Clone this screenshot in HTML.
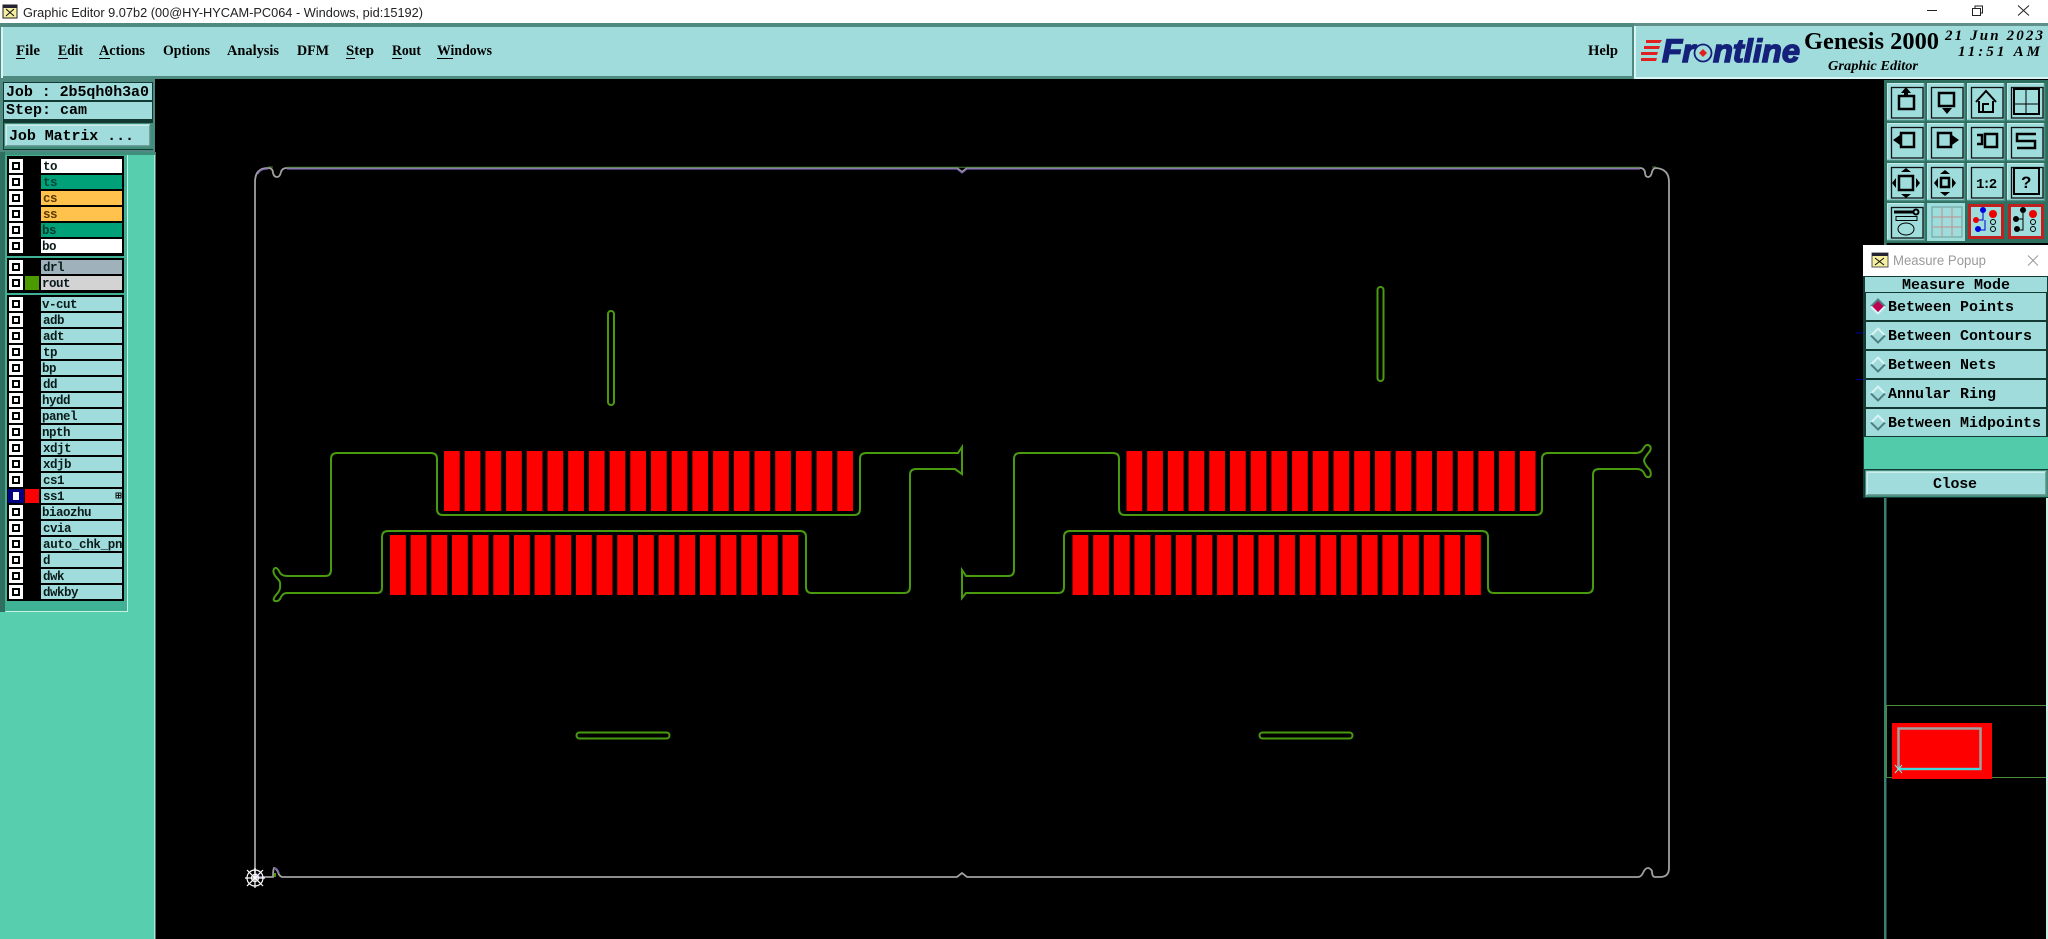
<!DOCTYPE html>
<html><head><meta charset="utf-8"><style>
html,body{margin:0;padding:0;background:#000;overflow:hidden}
svg{display:block}
.m{font:bold 15px "Liberation Mono",monospace;fill:#000}
.l{font:bold 12.5px "Liberation Mono",monospace;letter-spacing:-.5px;fill:#0a1a1a}
.s{font:bold 14.5px "Liberation Serif",serif;fill:#000}
</style></head><body>
<svg width="2048" height="939" viewBox="0 0 2048 939" xmlns="http://www.w3.org/2000/svg">
<defs>
<pattern id="p1" patternUnits="userSpaceOnUse" x="444" y="0" width="20.7" height="939"><rect width="15.7" height="939" fill="#f00"/></pattern>
<pattern id="p2" patternUnits="userSpaceOnUse" x="390" y="0" width="20.66" height="939"><rect width="15.9" height="939" fill="#f00"/></pattern>
<g id="cell"><rect width="38" height="38" fill="#9fdcdc"/><path d="M.5 38V.5H38" fill="none" stroke="#c4eaea" stroke-width="1"/><path d="M0 37.500H37.500V0" fill="none" stroke="#4a8f84" stroke-width="1.500"/><rect x="4.500" y="4.500" width="31.500" height="30.500" fill="#9fdcdc" stroke="#111" stroke-width="1.300"/></g>
<g id="cb"><rect x="9" y="0" width="14" height="14" fill="#fff"/><rect x="12" y="3" width="8" height="8" fill="#000"/><rect x="14" y="5" width="4" height="4" fill="#fff"/></g>
<g id="dia"><path d="M0 -7L7 0 0 7 -7 0Z" fill="#a0dcdc"/><path d="M-7 0L0 -7 7 0" fill="none" stroke="#d8f4f4" stroke-width="2"/><path d="M-7 0L0 7 7 0" fill="none" stroke="#4f7f80" stroke-width="2"/></g>
</defs>

<rect width="2048" height="939" fill="#000"/>

<!-- title bar -->
<rect width="2048" height="23" fill="#fff"/>
<rect x="3" y="5" width="14" height="13" fill="#f5f0a0" stroke="#222"/><rect x="3" y="5" width="14" height="3" fill="#223"/><path d="M6 9l8 7M14 9l-8 7" stroke="#111"/>
<text x="23" y="17" font-family="Liberation Sans,sans-serif" font-size="13" fill="#222" textLength="400" lengthAdjust="spacingAndGlyphs">Graphic Editor 9.07b2 (00@HY-HYCAM-PC064 - Windows, pid:15192)</text>
<path d="M1927 10.500H1937" stroke="#222"/><rect x="1972.500" y="8.500" width="8" height="7" fill="none" stroke="#222"/><path d="M1975 8.500V6h7.500v7H1981" fill="none" stroke="#222"/><path d="M2018 5.500L2029 15.500M2029 5.500L2018 15.500" stroke="#222"/>

<!-- menu bar -->
<rect y="23" width="2048" height="58" fill="#000"/>
<rect x="0" y="23" width="1636" height="56" fill="#4f8a80"/>
<rect x="3" y="27" width="1629" height="49" fill="#a0dcdc"/>
<rect x="1" y="27" width="2" height="51" fill="#d8f4f4"/>
<text class="s" x="16" y="55" textLength="24" lengthAdjust="spacingAndGlyphs">File</text><rect x="16" y="58" width="9" height="1"/>
<text class="s" x="58" y="55" textLength="25" lengthAdjust="spacingAndGlyphs">Edit</text><rect x="58" y="58" width="10" height="1"/>
<text class="s" x="99" y="55" textLength="46" lengthAdjust="spacingAndGlyphs">Actions</text><rect x="99" y="58" width="11" height="1"/>
<text class="s" x="163" y="55" textLength="47" lengthAdjust="spacingAndGlyphs">Options</text>
<text class="s" x="227" y="55" textLength="52" lengthAdjust="spacingAndGlyphs">Analysis</text>
<text class="s" x="297" y="55" textLength="32" lengthAdjust="spacingAndGlyphs">DFM</text>
<text class="s" x="346" y="55" textLength="28" lengthAdjust="spacingAndGlyphs">Step</text><rect x="346" y="58" width="9" height="1"/>
<text class="s" x="392" y="55" textLength="29" lengthAdjust="spacingAndGlyphs">Rout</text><rect x="392" y="58" width="10" height="1"/>
<text class="s" x="437" y="55" textLength="55" lengthAdjust="spacingAndGlyphs">Windows</text><rect x="437" y="58" width="16" height="1"/>
<text class="s" x="1588" y="55" textLength="30" lengthAdjust="spacingAndGlyphs">Help</text>

<!-- logo -->
<rect x="1634" y="23" width="414" height="56" fill="#5f8f88"/>
<rect x="1636" y="26" width="412" height="51" fill="#a0dcdc"/>
<rect x="1634" y="26" width="2" height="53" fill="#d8f4f4"/><rect x="1634" y="77" width="414" height="2" fill="#d8f4f4"/>
<path d="M1646 40h16l-2 3h-14zM1644 46h16l-1 3h-15zM1641 52h17l-1 3h-16zM1641 58h16l-1 3h-15z" fill="#e02020"/>
<text x="1662" y="62" font-family="Liberation Sans,sans-serif" font-size="32" font-weight="bold" font-style="italic" fill="#14207a" stroke="#14207a" stroke-width="1.400" textLength="33" lengthAdjust="spacingAndGlyphs">Fr</text>
<circle cx="1703" cy="53" r="8.500" fill="none" stroke="#14207a" stroke-width="1.800"/><path d="M1703 49l4 4-4 4-4-4z" fill="#e02020"/>
<text x="1713" y="62" font-family="Liberation Sans,sans-serif" font-size="32" font-weight="bold" font-style="italic" fill="#14207a" stroke="#14207a" stroke-width="1.400" textLength="87" lengthAdjust="spacingAndGlyphs">ntline</text>
<text x="1804" y="49" font-family="Liberation Serif,serif" font-size="24" font-weight="bold" fill="#000" textLength="135" lengthAdjust="spacingAndGlyphs">Genesis 2000</text>
<text x="1828" y="70" font-family="Liberation Serif,serif" font-size="13.500" font-weight="bold" font-style="italic" fill="#000" textLength="90" lengthAdjust="spacingAndGlyphs">Graphic Editor</text>
<text x="1945" y="40" font-family="Liberation Serif,serif" font-size="15" font-weight="bold" font-style="italic" fill="#000" textLength="98" lengthAdjust="spacing">21 Jun 2023</text>
<text x="1958" y="56" font-family="Liberation Serif,serif" font-size="15" font-weight="bold" font-style="italic" fill="#000" textLength="82" lengthAdjust="spacing">11:51 AM</text>

<!-- job info -->
<rect x="0" y="79" width="155" height="75" fill="#4f8a80"/>
<rect x="3" y="82" width="150" height="68" fill="#123a33"/>
<rect x="4" y="83" width="148" height="17" fill="#a0dcdc"/>
<rect x="4" y="102" width="148" height="17" fill="#a0dcdc"/>
<rect x="4" y="123" width="150" height="26" fill="#3f8f7a"/>
<rect x="6" y="125" width="144" height="21" fill="#a0dcdc"/>
<path d="M6 146V125H150" fill="none" stroke="#d8f4f4" stroke-width="1.500"/><path d="M6 146H150V125" fill="none" stroke="#5f8f88" stroke-width="1.500"/>
<text class="m" x="6" y="96" textLength="143" lengthAdjust="spacing">Job : 2b5qh0h3a0</text>
<text class="m" x="6" y="114" textLength="81" lengthAdjust="spacing">Step: cam</text>
<text class="m" x="9" y="140" textLength="125" lengthAdjust="spacing">Job Matrix ...</text>

<!-- left panel -->
<rect x="0" y="152" width="155" height="787" fill="#57cfae"/>
<rect x="154" y="152" width="1.500" height="787" fill="#a8e8d4"/>
<rect x="0" y="152" width="155" height="3" fill="#3f8f7a"/>
<rect x="0" y="152" width="5" height="460" fill="#2f6f60"/>
<rect x="5" y="155" width="123" height="456" fill="#3fb296"/>
<path d="M5.500 611.500H127.500V155" fill="none" stroke="#c8f0e4"/>
<rect x="7" y="156" width="117" height="100" fill="#000"/>
<rect x="7" y="258" width="117" height="35" fill="#000"/>
<rect x="7" y="295" width="117" height="306" fill="#000"/>

<!-- layers -->
<rect x="41" y="159" width="81" height="14" fill="#fff"/><rect x="41" y="175" width="81" height="14" fill="#00a078"/><rect x="41" y="191" width="81" height="14" fill="#ffc34d"/><rect x="41" y="207" width="81" height="14" fill="#ffc34d"/><rect x="41" y="223" width="81" height="14" fill="#00a078"/><rect x="41" y="239" width="81" height="14" fill="#fff"/>
<rect x="41" y="260" width="81" height="14" fill="#9fb2bc"/><rect x="41" y="276" width="81" height="14" fill="#d3d3d3"/>
<rect x="25" y="276" width="14" height="14" fill="#4a9a00"/>
<g fill="#a0dcdc">
<rect x="41" y="297" width="81" height="14"/><rect x="41" y="313" width="81" height="14"/><rect x="41" y="329" width="81" height="14"/><rect x="41" y="345" width="81" height="14"/><rect x="41" y="361" width="81" height="14"/><rect x="41" y="377" width="81" height="14"/><rect x="41" y="393" width="81" height="14"/><rect x="41" y="409" width="81" height="14"/><rect x="41" y="425" width="81" height="14"/><rect x="41" y="441" width="81" height="14"/><rect x="41" y="457" width="81" height="14"/><rect x="41" y="473" width="81" height="14"/><rect x="41" y="489" width="81" height="14"/><rect x="41" y="505" width="81" height="14"/><rect x="41" y="521" width="81" height="14"/><rect x="41" y="537" width="81" height="14"/><rect x="41" y="553" width="81" height="14"/><rect x="41" y="569" width="81" height="14"/><rect x="41" y="585" width="81" height="14"/>
</g>
<use href="#cb" y="159"/><use href="#cb" y="175"/><use href="#cb" y="191"/><use href="#cb" y="207"/><use href="#cb" y="223"/><use href="#cb" y="239"/><use href="#cb" y="260"/><use href="#cb" y="276"/>
<use href="#cb" y="297"/><use href="#cb" y="313"/><use href="#cb" y="329"/><use href="#cb" y="345"/><use href="#cb" y="361"/><use href="#cb" y="377"/><use href="#cb" y="393"/><use href="#cb" y="409"/><use href="#cb" y="425"/><use href="#cb" y="441"/><use href="#cb" y="457"/><use href="#cb" y="473"/>
<rect x="8" y="489" width="16" height="14" fill="#000080"/><rect x="13" y="492" width="6" height="8" fill="#fff"/><rect x="25" y="489" width="14" height="14" fill="#f00"/>
<use href="#cb" y="505"/><use href="#cb" y="521"/><use href="#cb" y="537"/><use href="#cb" y="553"/><use href="#cb" y="569"/><use href="#cb" y="585"/>
<text class="l" x="43" y="170">to</text><text class="l" x="43" y="186" style="fill:#004a38">ts</text><text class="l" x="43" y="202" style="fill:#5a3a00">cs</text><text class="l" x="43" y="218" style="fill:#5a3a00">ss</text><text class="l" x="42" y="234" style="fill:#003a2c">bs</text><text class="l" x="42" y="250">bo</text>
<text class="l" x="43" y="271">drl</text><text class="l" x="42" y="287">rout</text>
<text class="l" x="42" y="308">v-cut</text><text class="l" x="43" y="324">adb</text><text class="l" x="43" y="340">adt</text><text class="l" x="43" y="356">tp</text><text class="l" x="42" y="372">bp</text><text class="l" x="43" y="388">dd</text><text class="l" x="42" y="404">hydd</text><text class="l" x="42" y="420">panel</text><text class="l" x="42" y="436">npth</text><text class="l" x="43" y="452">xdjt</text><text class="l" x="43" y="468">xdjb</text><text class="l" x="43" y="484">cs1</text><text class="l" x="43" y="500">ss1</text><text class="l" x="42" y="516">biaozhu</text><text class="l" x="43" y="532">cvia</text><text class="l" x="43" y="548" textLength="79" lengthAdjust="spacing">auto_chk_pn</text><text class="l" x="43" y="564">d</text><text class="l" x="43" y="580">dwk</text><text class="l" x="43" y="596">dwkby</text>
<rect x="116" y="493" width="5" height="5" fill="none" stroke="#111"/><path d="M118.500 493v5M116 495.500h5" stroke="#111"/>

<!-- board outline -->
<path d="M255 877V182Q255 168 268 168Q273 168 273 173Q274 177 277 177Q280 177 281 172Q282 168 287 168H957L962 172L967 168H1640Q1644 168 1645 172Q1645 177 1648 177Q1651 177 1652 172Q1653 168 1656 168Q1669 169 1669 182V868Q1669 877 1660 877L1655 877Q1652 877 1652 871Q1650 868 1648 868Q1645 868 1643 873Q1641 877 1638 877H967L962 873L957 877H282Q279 876 278 872Q276 868 274 868Q273 870 273 877H255" fill="none" stroke="#a0a0a0" stroke-width="1.800"/>
<path d="M268 167H273M287 167.300H1640M1652 167H1656" stroke="#4a7a3a" stroke-width="1" fill="none"/>
<path d="M287 169H957L962 173L967 169H1640M258 174Q260 169 268 169" stroke="#7a60b0" stroke-width="1.200" fill="none"/>
<path d="M255 872Q258 877 262 877M274 869Q277 867 279 873" stroke="#7a60b0" stroke-width="1.300" fill="none"/>
<rect x="274" y="873" width="2" height="4" fill="#4a9a00"/>

<!-- origin -->
<g stroke="#fff" stroke-width="1.200" fill="none"><circle cx="255" cy="878" r="8"/><circle cx="255" cy="878" r="3.500"/><path d="M245 878H265M255 868V888M247 870L263 886M263 870L247 886"/></g>

<!-- pads -->
<rect x="444" y="451" width="409.500" height="60" fill="url(#p1)"/>
<rect x="390" y="535" width="408.500" height="60" fill="url(#p2)"/>
<g transform="translate(682.500 0)"><rect x="444" y="451" width="409.500" height="60" fill="url(#p1)"/><rect x="390" y="535" width="408.500" height="60" fill="url(#p2)"/></g>

<!-- rout contours -->
<g fill="none" stroke="#4a9a10" stroke-width="2">
<path d="M287 576Q281 576 279 571Q276 566 274 569Q272 573 277 578Q281 582 280 585Q281 590 276 595Q272 600 275 601Q279 602 281 597Q283 593 287 593H377Q382 593 382 588V537Q382 531 388 531H800Q806 531 806 537V587Q806 593 812 593H904Q910 593 910 587V475Q910 469 916 469H955L962 474V447L958 453H866Q860 453 860 459V509Q860 515 854 515H443Q437 515 437 509V459Q437 453 431 453H337Q331 453 331 459V570Q331 576 325 576Z"/>
<path d="M962 570L966 576H1008Q1014 576 1014 570V459Q1014 453 1020 453H1113Q1119 453 1119 459V509Q1119 515 1125 515H1536Q1542 515 1542 509V459Q1542 453 1548 453H1636Q1641 453 1643 449Q1646 444 1648 445Q1652 446 1650 451Q1644 458 1644 461Q1645 465 1650 470Q1652 476 1649 477Q1646 478 1644 473Q1642 469 1637 469H1599Q1593 469 1593 475V587Q1593 593 1587 593H1494Q1488 593 1488 587V537Q1488 531 1482 531H1070Q1064 531 1064 537V587Q1064 593 1058 593H966L962 598Z"/>
<rect x="608" y="311" width="6" height="94" rx="3"/>
<rect x="1377.500" y="287" width="6" height="94" rx="3"/>
<rect x="576.500" y="732.500" width="93" height="6" rx="3"/>
<rect x="1259.500" y="732.500" width="93" height="6" rx="3"/>
</g>

<!-- toolbar -->
<rect x="1884" y="80" width="164" height="163" fill="#2f6f60"/>
<use href="#cell" x="1887" y="83"/><use href="#cell" x="1927" y="83"/><use href="#cell" x="1967" y="83"/><use href="#cell" x="2007" y="83"/>
<use href="#cell" x="1887" y="123"/><use href="#cell" x="1927" y="123"/><use href="#cell" x="1967" y="123"/><use href="#cell" x="2007" y="123"/>
<use href="#cell" x="1887" y="163"/><use href="#cell" x="1927" y="163"/><use href="#cell" x="1967" y="163"/><use href="#cell" x="2007" y="163"/>
<use href="#cell" x="1887" y="203"/>
<g fill="none" stroke="#000" stroke-width="2.500">
<rect x="1899" y="96" width="15" height="13"/><rect x="1939" y="93" width="15" height="13"/>
<path d="M1976 102L1986 91 1996 102M1979 101V112H1993V101M1983 112V104H1989" stroke-width="2"/>
<rect x="2014" y="89" width="25" height="25" stroke-width="2"/><path d="M2014 104H2039M2026 89V114" stroke-width="1"/>
<rect x="1901" y="133" width="13" height="14"/><rect x="1938" y="133" width="13" height="14"/><rect x="1985" y="134" width="12" height="13"/><path d="M1977 135h5v9h-5"/>
<path d="M2036 134H2017V141H2035V148H2017" stroke-width="2.500"/>
<rect x="1899" y="176" width="14" height="14"/><rect x="1941" y="178" width="8" height="9"/>
<rect x="2014" y="168" width="25" height="26" stroke-width="2"/>
</g>
<g fill="#000">
<path d="M1906 87l-5 6h3v4h4v-4h3z"/><path d="M1947 114l-5-6h10z"/><path d="M1893 140l7-5v10z"/><path d="M1959 140l-7-5v10z"/>
<path d="M1906 168l-5 4h10zM1906 198l-5-4h10zM1892 183l4-5v10zM1920 183l-4-5v10z"/>
<path d="M1945 170l-5 4h10zM1945 196l-5-4h10zM1934 183l4-5v10zM1956 183l-4-5v10z"/>
</g>
<text x="1976" y="188" font-family="Liberation Mono,monospace" font-size="14" font-weight="bold" letter-spacing="-2" fill="#000">1:2</text>
<text x="2021" y="188" font-family="Liberation Sans,sans-serif" font-size="17" font-weight="bold" fill="#000">?</text>
<g stroke="#000" fill="none"><path d="M1894 212H1913" stroke-width="3"/><circle cx="1916" cy="212" r="2.500" stroke-width="2"/><rect x="1896" y="216.500" width="21" height="4" stroke-width="1"/><ellipse cx="1906" cy="229" rx="8" ry="6" stroke-width="1"/></g>
<rect x="1927" y="203" width="38" height="38" fill="#9fdcdc"/><rect x="1932" y="207" width="30" height="30" fill="none" stroke="#6a9f9a"/><path d="M1942 207V237M1952 207V237M1932 217H1962M1932 227H1962" stroke="#c09090"/>
<rect x="1968" y="204" width="36" height="35" fill="#c02020"/><rect x="1971" y="207" width="30" height="29" fill="#9fdcdc"/>
<path d="M1973 220H1983V212H1985M1985 220V230H1978" stroke="#00d" fill="none"/><circle cx="1983" cy="210" r="3" fill="#00d"/><circle cx="1976" cy="220" r="3" fill="#e00"/><circle cx="1978" cy="229" r="3" fill="#00d"/><circle cx="1993" cy="214" r="4" fill="#e00"/><circle cx="1993" cy="222" r="2.500" fill="none" stroke="#000"/><circle cx="1993" cy="229" r="2.500" fill="none" stroke="#000"/>
<rect x="2008" y="204" width="36" height="35" fill="#c02020"/><rect x="2011" y="207" width="30" height="29" fill="#9fdcdc"/>
<path d="M2023 211V230H2017M2016 219H2023" stroke="#000" fill="none"/><circle cx="2023" cy="210" r="3"/><circle cx="2016" cy="219" r="3"/><circle cx="2017" cy="229" r="3"/><circle cx="2033" cy="214" r="4" fill="#e00"/><circle cx="2033" cy="222" r="2.500" fill="none" stroke="#000"/><circle cx="2033" cy="229" r="2.500" fill="none" stroke="#000"/>

<!-- right column -->
<rect x="1884" y="243" width="2.500" height="696" fill="#3a8070"/>
<rect x="2046" y="498" width="2" height="441" fill="#c8f0e4"/>
<path d="M1856 333H1863M1856 379.500H1863" stroke="#0000a0"/>

<!-- minimap -->
<path d="M1886.500 778V705.500H2046M1886 777.500H2046" fill="none" stroke="#4a8a3a"/>
<rect x="1892" y="723" width="100" height="56" fill="#f00"/>
<rect x="1898.500" y="728.500" width="82" height="40.500" fill="none" stroke="#a0a0a0" stroke-width="2.500"/>
<path d="M1898 769H1980" stroke="#40d8d8" stroke-width="2"/>
<path d="M1895 765l7 8M1902 765l-7 8" stroke="#7ee" stroke-width="1"/>

<!-- popup -->
<rect x="1863" y="245" width="185" height="253" fill="#123a33"/>
<rect x="1863" y="245" width="185" height="31" fill="#fff"/>
<rect x="1872" y="253" width="16" height="14" fill="#f5f0a0" stroke="#555"/><rect x="1872" y="253" width="16" height="3" fill="#223"/><path d="M1875 258l9 7M1884 258l-9 7" stroke="#111"/>
<text x="1893" y="265" font-family="Liberation Sans,sans-serif" font-size="13.500" fill="#9a9a9a" textLength="93" lengthAdjust="spacingAndGlyphs">Measure Popup</text>
<path d="M2028 255.500L2038 265.500M2038 255.500L2028 265.500" stroke="#9a9a9a"/>
<rect x="1865" y="277" width="182" height="15" fill="#a0dcdc"/>
<rect x="1866" y="293" width="180" height="27" fill="#a0dcdc"/><rect x="1866" y="322" width="180" height="27" fill="#a0dcdc"/><rect x="1866" y="351" width="180" height="27" fill="#a0dcdc"/><rect x="1866" y="380" width="180" height="27" fill="#a0dcdc"/><rect x="1866" y="409" width="180" height="27" fill="#a0dcdc"/>
<rect x="1864" y="437" width="184" height="32" fill="#51cba9"/>
<rect x="1865" y="470" width="183" height="27" fill="#3f8f7a"/>
<rect x="1867" y="472" width="179" height="23" fill="#a0dcdc"/>
<path d="M1867 495V472H2046" fill="none" stroke="#d8f4f4" stroke-width="1.500"/><path d="M1867 495H2046V472" fill="none" stroke="#5f8f88" stroke-width="1.500"/>
<text class="m" x="1902" y="289" textLength="108" lengthAdjust="spacing">Measure Mode</text>
<g transform="translate(1878 306.500)"><path d="M0 -7L7 0 0 7 -7 0Z" fill="#c00050"/><path d="M-7 0L0 -7 7 0" fill="none" stroke="#4f7f80" stroke-width="2"/><path d="M-7 0L0 7 7 0" fill="none" stroke="#d8f4f4" stroke-width="2"/></g>
<use href="#dia" x="1878" y="335.500"/><use href="#dia" x="1878" y="364.500"/><use href="#dia" x="1878" y="393.500"/><use href="#dia" x="1878" y="422.500"/>
<text class="m" x="1888" y="311" textLength="126" lengthAdjust="spacing">Between Points</text>
<text class="m" x="1888" y="340" textLength="144" lengthAdjust="spacing">Between Contours</text>
<text class="m" x="1888" y="369" textLength="108" lengthAdjust="spacing">Between Nets</text>
<text class="m" x="1888" y="398" textLength="108" lengthAdjust="spacing">Annular Ring</text>
<text class="m" x="1888" y="427" textLength="153" lengthAdjust="spacing">Between Midpoints</text>
<text class="m" x="1933" y="488" textLength="44" lengthAdjust="spacing">Close</text>
</svg>
</body></html>
